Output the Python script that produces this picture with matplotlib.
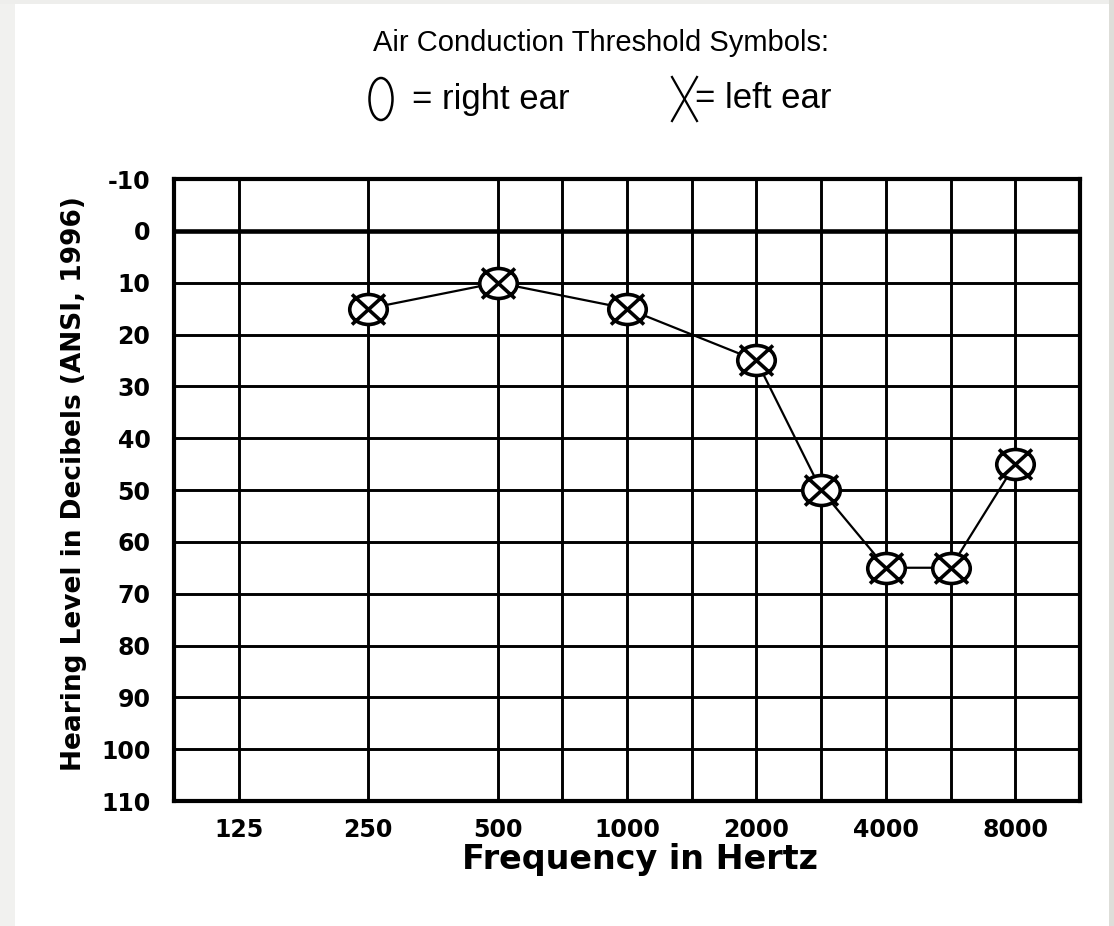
import numpy as np
import matplotlib
matplotlib.use('Agg')
import matplotlib.pyplot as plt
from matplotlib.path import Path
from matplotlib.patches import Ellipse, Rectangle

# audiogram data (left ear, air conduction)
freqs = [250, 500, 1000, 2000, 3000, 4000, 6000, 8000]
levels = [15, 10, 15, 25, 50, 65, 65, 45]

octave_freqs = [125, 250, 500, 1000, 2000, 4000, 8000]
octave_labels = ['125', '250', '500', '1000', '2000', '4000', '8000']
mid_freqs = [750, 1500, 3000, 6000]
db_ticks = list(range(-10, 111, 10))
db_labels = [str(v) for v in db_ticks]

# audiometric frequency axis: octaves evenly spaced, inter-octaves at midpoints
anchor_f = np.log2([62.5, 125, 250, 500, 750, 1000, 1500, 2000, 3000, 4000, 6000, 8000, 16000])
anchor_x = np.array([-1, 0, 1, 2, 2.5, 3, 3.5, 4, 4.5, 5, 5.5, 6, 7])


def fwd(f):
    return np.interp(np.log2(np.clip(f, 1e-6, None)), anchor_f, anchor_x)


def inv(x):
    return 2 ** np.interp(x, anchor_x, anchor_f)


# circle-with-X marker, a bit wider than tall
circ = Path.unit_circle()
verts = list(circ.vertices * [1, 0.8])
codes = list(circ.codes)
verts += [(-0.88, -0.8), (0.88, 0.8), (-0.88, 0.8), (0.88, -0.8)]
codes += [Path.MOVETO, Path.LINETO, Path.MOVETO, Path.LINETO]
ox_marker = Path(verts, codes)

W, H = 1114, 926
fig = plt.figure(figsize=(W / 100, H / 100), dpi=100)
fig.patch.set_facecolor('white')

bold = {'family': 'DejaVu Sans', 'weight': 'bold'}

ax = fig.add_axes([174 / W, 1 - 801 / H, (1080 - 174) / W, (801 - 179) / H])
ax.set_xscale('function', functions=(fwd, inv))
ax.set_xlim(inv(-0.5), inv(6.5))
ax.set_ylim(110, -10)

ax.set_xticks(octave_freqs, labels=octave_labels)
ax.set_xticks(mid_freqs, labels=[''] * len(mid_freqs), minor=True)
ax.set_yticks(db_ticks, labels=db_labels)
ax.tick_params(which='both', length=0)
ax.tick_params(axis='x', pad=12, labelsize=17)
ax.tick_params(axis='y', pad=17, labelsize=17)
for lab in ax.get_xticklabels() + ax.get_yticklabels():
    lab.set_fontfamily('DejaVu Sans')
    lab.set_fontweight('bold')

ax.set_axisbelow(True)
ax.grid(True, which='both', color='black', linewidth=2.1)
ax.axhline(0, color='black', linewidth=3.3, zorder=1)
for s in ax.spines.values():
    s.set_linewidth(3)

ax.plot(freqs, levels, color='black', linewidth=1.6, zorder=3)
ax.plot(freqs, levels, linestyle='none', marker=ox_marker, markersize=27,
        markerfacecolor='white', markeredgecolor='black', markeredgewidth=2.6,
        zorder=4)

ax.set_xlabel('Frequency in Hertz', fontsize=24, **bold)
ax.xaxis.set_label_coords((640 - 174) / 906, (801 - 859) / 622)
ax.xaxis.label.set_va('center')
ax.set_ylabel('Hearing Level in Decibels (ANSI, 1996)', fontsize=19, **bold)
ax.yaxis.set_label_coords((74 - 174) / 906, 0.51)
ax.yaxis.label.set_va('center')

# overlay in pixel coordinates for the symbol key and the page edges
ov = fig.add_axes([0, 0, 1, 1], zorder=-1)
ov.set_xlim(0, W)
ov.set_ylim(H, 0)
ov.axis('off')
ov.add_patch(Rectangle((0, 0), 15, H, color='#f1f1ef', lw=0))
ov.add_patch(Rectangle((0, 0), W, 4, color='#eeeeec', lw=0))
ov.add_patch(Rectangle((1109, 0), 5, H, color='#deded9', lw=0))

ov2 = fig.add_axes([0, 0, 1, 1], zorder=5)
ov2.set_xlim(0, W)
ov2.set_ylim(H, 0)
ov2.axis('off')
ov2.patch.set_alpha(0)
ov2.text(601, 43, 'Air Conduction Threshold Symbols:', fontsize=21,
         family='Liberation Sans', ha='center', va='center')
ov2.add_patch(Ellipse((381, 99), 23, 42, fill=False, edgecolor='black', lw=1.8))
ov2.text(412, 99, '= right ear', fontsize=25, family='Liberation Sans',
         ha='left', va='center')
ov2.plot([672, 697], [77, 121], color='black', lw=1.6)
ov2.plot([672, 697], [121, 77], color='black', lw=1.6)
ov2.text(695, 99, '= left ear', fontsize=25, family='Liberation Sans',
         ha='left', va='center')

fig.savefig('out.png', dpi=100, facecolor=fig.get_facecolor())
